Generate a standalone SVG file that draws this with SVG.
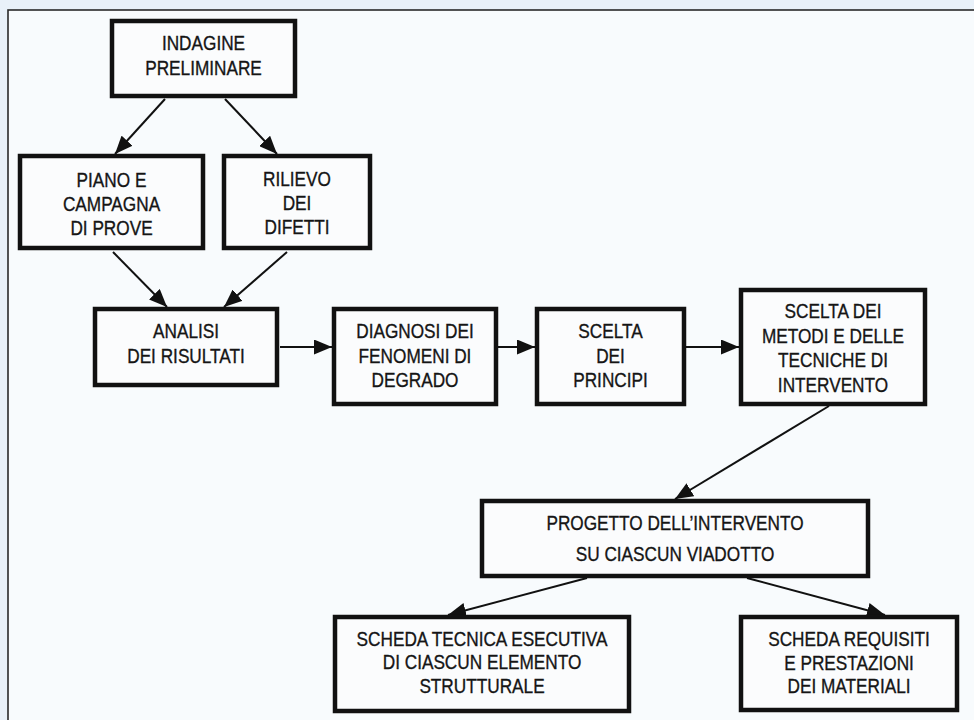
<svg xmlns="http://www.w3.org/2000/svg" width="974" height="720" viewBox="0 0 974 720">
<style>
.bg{fill:#e9f1f9}
.panel{fill:#f8fbfd;stroke:#2a2a2a;stroke-width:1.6}
.box{fill:#fbfcfd;stroke:#111;stroke-width:4.5}
.lbl{font-family:"Liberation Sans",Arial,sans-serif;font-size:21px;fill:#151515;stroke:#151515;stroke-width:0.35;text-anchor:middle}
.conn{stroke:#111;stroke-width:2;fill:none;marker-end:url(#ah)}
</style>
<defs>
<marker id="ah" markerUnits="userSpaceOnUse" markerWidth="19" markerHeight="15" refX="18" refY="7.5" orient="auto">
<path d="M0,0 L18,7.5 L0,15 z" fill="#111"/>
</marker>
</defs>
<rect class="bg" x="0" y="0" width="974" height="720"/>
<rect class="panel" x="8" y="10" width="980" height="730"/>
<g id="connectors">
<line class="conn" x1="165" y1="99" x2="115" y2="154"/>
<line class="conn" x1="225" y1="99" x2="277" y2="154"/>
<line class="conn" x1="113" y1="252" x2="167" y2="307"/>
<line class="conn" x1="287" y1="252" x2="224" y2="307"/>
<line class="conn" x1="280" y1="347" x2="332" y2="347"/>
<line class="conn" x1="498" y1="347" x2="535" y2="347"/>
<line class="conn" x1="686" y1="347" x2="739" y2="347"/>
<line class="conn" x1="829" y1="406" x2="675" y2="499"/>
<line class="conn" x1="587" y1="578" x2="448" y2="615"/>
<line class="conn" x1="747" y1="578" x2="885" y2="615"/>
</g>
<g id="n-indagine">
<rect class="box" x="112" y="21" width="183" height="75"/>
<g transform="translate(203.5 0) scale(0.82 1)">
<text class="lbl" x="0" y="50">INDAGINE</text>
<text class="lbl" x="0" y="75">PRELIMINARE</text>
</g>
</g>
<g id="n-piano">
<rect class="box" x="20" y="156" width="183" height="92"/>
<g transform="translate(111.5 0) scale(0.82 1)">
<text class="lbl" x="0" y="187">PIANO E</text>
<text class="lbl" x="0" y="211">CAMPAGNA</text>
<text class="lbl" x="0" y="235">DI PROVE</text>
</g>
</g>
<g id="n-rilievo">
<rect class="box" x="224" y="156" width="146" height="92"/>
<g transform="translate(297 0) scale(0.82 1)">
<text class="lbl" x="0" y="186">RILIEVO</text>
<text class="lbl" x="0" y="210">DEI</text>
<text class="lbl" x="0" y="234">DIFETTI</text>
</g>
</g>
<g id="n-analisi">
<rect class="box" x="95" y="309" width="182" height="76"/>
<g transform="translate(186 0) scale(0.82 1)">
<text class="lbl" x="0" y="338">ANALISI</text>
<text class="lbl" x="0" y="363">DEI RISULTATI</text>
</g>
</g>
<g id="n-diagnosi">
<rect class="box" x="334" y="309" width="162" height="95"/>
<g transform="translate(415 0) scale(0.82 1)">
<text class="lbl" x="0" y="338">DIAGNOSI DEI</text>
<text class="lbl" x="0" y="363">FENOMENI DI</text>
<text class="lbl" x="0" y="387">DEGRADO</text>
</g>
</g>
<g id="n-principi">
<rect class="box" x="537" y="309" width="147" height="95"/>
<g transform="translate(610.5 0) scale(0.82 1)">
<text class="lbl" x="0" y="338">SCELTA</text>
<text class="lbl" x="0" y="363">DEI</text>
<text class="lbl" x="0" y="387">PRINCIPI</text>
</g>
</g>
<g id="n-metodi">
<rect class="box" x="741" y="290" width="184" height="114"/>
<g transform="translate(833 0) scale(0.82 1)">
<text class="lbl" x="0" y="318">SCELTA DEI</text>
<text class="lbl" x="0" y="343">METODI E DELLE</text>
<text class="lbl" x="0" y="367">TECNICHE DI</text>
<text class="lbl" x="0" y="392">INTERVENTO</text>
</g>
</g>
<g id="n-progetto">
<rect class="box" x="482" y="501" width="386" height="75"/>
<g transform="translate(675 0) scale(0.82 1)">
<text class="lbl" x="0" y="530">PROGETTO DELL’INTERVENTO</text>
<text class="lbl" x="0" y="561">SU CIASCUN VIADOTTO</text>
</g>
</g>
<g id="n-scheda-tecnica">
<rect class="box" x="335" y="617" width="294" height="94"/>
<g transform="translate(482 0) scale(0.82 1)">
<text class="lbl" x="0" y="646">SCHEDA TECNICA ESECUTIVA</text>
<text class="lbl" x="0" y="669">DI CIASCUN ELEMENTO</text>
<text class="lbl" x="0" y="693">STRUTTURALE</text>
</g>
</g>
<g id="n-scheda-requisiti">
<rect class="box" x="741" y="617" width="216" height="93"/>
<g transform="translate(849 0) scale(0.82 1)">
<text class="lbl" x="0" y="646">SCHEDA REQUISITI</text>
<text class="lbl" x="0" y="670">E PRESTAZIONI</text>
<text class="lbl" x="0" y="693">DEI MATERIALI</text>
</g>
</g>
</svg>
